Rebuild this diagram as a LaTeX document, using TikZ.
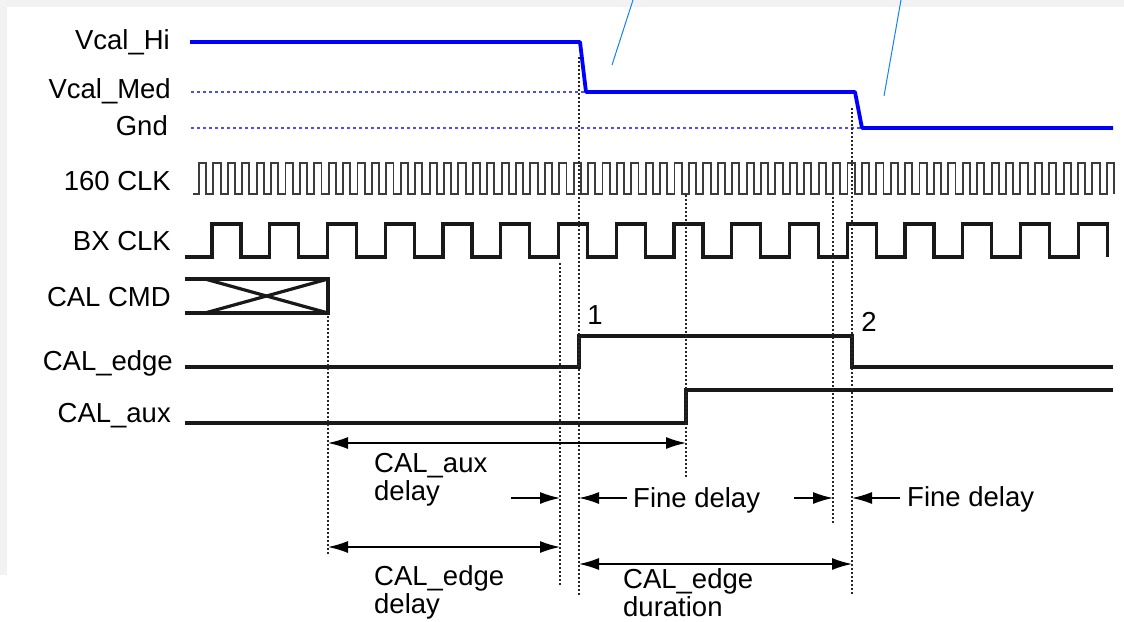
\documentclass[tikz,border=0pt]{standalone}
\usepackage{fontspec}
\setmainfont{Liberation Sans}
\usetikzlibrary{arrows.meta}

\definecolor{callout}{RGB}{20,130,240}
\definecolor{clkgray}{RGB}{60,60,60}

\begin{document}
\begin{tikzpicture}[x=1pt, y=-1pt, every node/.style={font=\fontsize{27.5}{28}\selectfont, inner sep=0pt},
  >={Latex[length=20pt, width=12pt]},
  lbl/.style={anchor=base east},
  txt/.style={anchor=base west, align=left},
  vcal/.style={line width=3.8pt, blue, line join=round},
  lvl/.style={blue!70, line width=1.4pt, dash pattern=on 3pt off 3pt},
  sig/.style={line width=3.2pt, black!90, line join=miter},
  clk/.style={line width=1.9pt, clkgray},
  guide/.style={black!85, line width=1.5pt, dash pattern=on 1.5pt off 2.5pt},
  dim/.style={line width=1.4pt}]
	\useasboundingbox (0,0) rectangle (1124,621);
	\fill[black!5] (0,0) rectangle (1124,7);
	\fill[black!5] (0,0) rectangle (7,575);
	% signal names
	\node[lbl] (hi) at (170,49) {Vcal\_Hi};
	\node[lbl] (med) at (171,98) {Vcal\_Med};
	\node[lbl] (gnd) at (168,135) {Gnd};
	\node[lbl] (fast) at (171,190) {160 CLK};
	\node[lbl] (bx) at (171,250) {BX CLK};
	\node[lbl] (cmd) at (171,306) {CAL CMD};
	\node[lbl] (edge) at (173,370) {CAL\_edge};
	\node[lbl] (aux) at (171,422) {CAL\_aux};
	% Vcal levels
	\draw[lvl] (191,92) -- (586,92);
	\draw[lvl] (191,128) -- (862,128);
	\draw[vcal] (190,42) -- (580,42) -- (586,92) -- (855,92) -- (862,128) -- (1113,128);
	\draw[callout, line width=1pt] (612,65) -- (633,0);
	\draw[callout, line width=1pt] (884,96) -- (901,0);
	% clocks
	\draw[clk] (193,194) foreach \k in {0,...,63} { -- ({199+14.41*\k},194) -- ++(0,-31) -- ++(7.2,0) -- ++(0,31) };
	\draw[sig] (185,257) foreach \k in {0,...,15} { -- ({212+57.75*\k},257) -- ++(0,-33) -- ++(28.9,0) -- ++(0,33) };
	% command
	\draw[sig] (185,279) -- (328,279) -- (328,313) -- (185,313);
	\draw[sig] (205,279) -- (328,313);
	\draw[sig] (205,313) -- (328,279);
	% CAL_edge and CAL_aux
	\draw[sig] (185,367) -- (579,367) -- (579,336) -- (852,336) -- (852,367) -- (1113,367);
	\draw[sig] (185,423) -- (686,423) -- (686,390) -- (1113,390);
	\node (one) at (595,324) [anchor=base] {1};
	\node (two) at (869,331) [anchor=base] {2};
	% guide lines
	\coordinate (g1t) at (328,316); \coordinate (g1b) at (328,556);
	\coordinate (g2t) at (560,263); \coordinate (g2b) at (560,585);
	\coordinate (g3t) at (579,57);  \coordinate (g3b) at (579,595);
	\coordinate (g4t) at (686,195); \coordinate (g4b) at (686,479);
	\coordinate (g5t) at (833,197); \coordinate (g5b) at (833,525);
	\coordinate (g6t) at (852,108); \coordinate (g6b) at (852,595);
	\foreach \g in {g1,g2,g3,g4,g5,g6} {\draw[guide] (\g t) -- (\g b);}
	% delays
	\draw[dim, <->] (g1t |- 0,443) -- (g4t |- 0,443);
	\draw[dim, <->] (g1t |- 0,547) -- (g2t |- 0,547);
	\draw[dim, <->] (g3t |- 0,564) -- (g6t |- 0,564);
	\coordinate (f1) at (511,498); \coordinate (f2) at (627,498);
	\coordinate (f3) at (794,498); \coordinate (f4) at (900,498);
	\draw[dim, ->] (f1) -- (g2t |- f1);
	\draw[dim, ->] (f2) -- (g3t |- f2);
	\draw[dim, ->] (f3) -- (g5t |- f3);
	\draw[dim, ->] (f4) -- (g6t |- f4);
	\node[txt] (auxd) at (374,500) {CAL\_aux\\delay};
	\node[txt] (edged) at (374,613) {CAL\_edge\\delay};
	\node[txt] (fine1) at (633,507) {Fine delay};
	\node[txt] (fine2) at (907,506) {Fine delay};
	\node[txt] (dur) at (623,616) {CAL\_edge\\duration};
\end{tikzpicture}
\end{document}
